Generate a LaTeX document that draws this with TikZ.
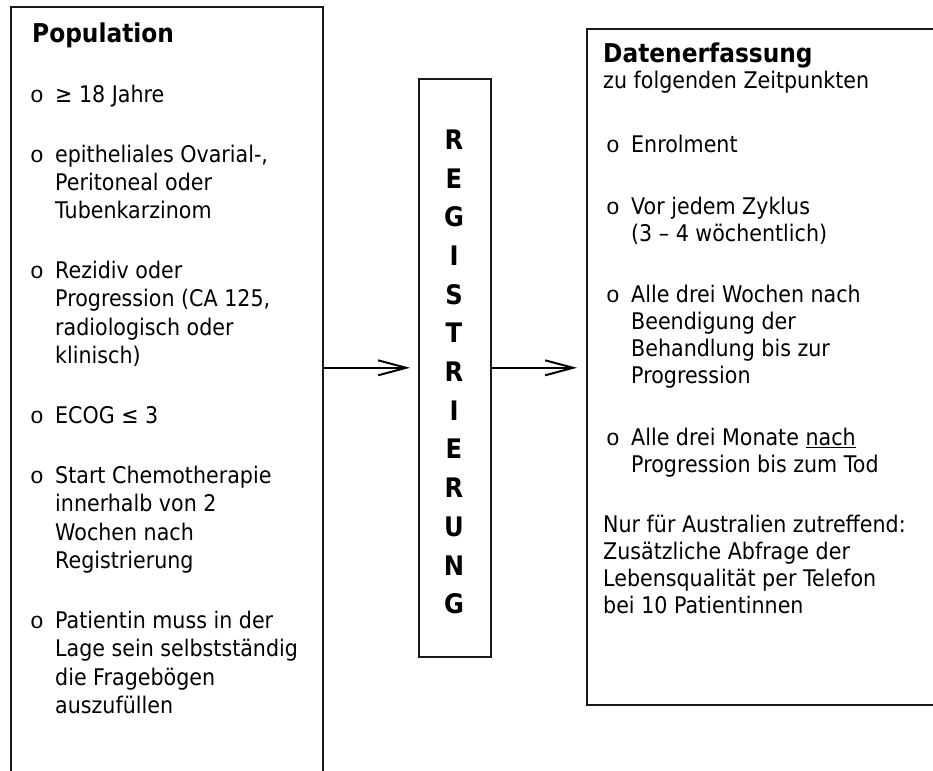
\documentclass[tikz,border=0pt]{standalone}
\usepackage{fontspec}
\setmainfont{DejaVu Sans}[FakeStretch=0.9]
\newfontfamily\bulletfont{Liberation Mono}
\usetikzlibrary{arrows.meta}
\definecolor{Frame}{HTML}{1A1A1A}

\tikzset{
  box/.style={draw=Frame, line width=1.6bp, inner sep=0pt, anchor=north west},
  txt/.style={anchor=base west, inner sep=0pt, font=\fontsize{23}{28}\selectfont},
  head/.style={anchor=base west, inner sep=0pt, font=\bfseries\fontsize{26}{30}\selectfont},
  dot/.style={anchor=base west, inner sep=0pt, font=\bulletfont\fontsize{23}{28}\selectfont},
  letter/.style={inner sep=0pt, font=\bfseries\fontsize{27}{30}\selectfont},
  arr/.style={line width=2bp, -{Straight Barb[length=28bp,width=15bp]}},
}

\begin{document}
\begin{tikzpicture}[x=1bp, y=-1bp]%
\useasboundingbox (0,0) rectangle (933,771);%
\clip (0,0) rectangle (933,771);%
% the three frames
\node[box, minimum width=312bp, minimum height=800bp] (pop) at (10,6) {};%
\node[box, minimum width=72bp, minimum height=578bp] (reg) at (418,78) {};%
\node[box, minimum width=400bp, minimum height=676bp] (dat) at (586,28) {};%
\draw[arr, shorten >=8bp] (reg.west -| pop.east) -- (reg.west);%
\draw[arr, shorten >=9bp] (reg.east) -- (reg.east -| dat.west);%
% left column
\node[head] (poptitle) at (32,43) {Population};%
\node[dot] (popb1) at (30,102) {o};%
\node[txt] (pop1) at (55,102) {≥ 18 Jahre};%
\node[dot] (popb2) at (30,162) {o};%
\node[txt] (pop2a) at (55,162) {epitheliales Ovarial-,};%
\node[txt] (pop2b) at (55,190) {Peritoneal oder};%
\node[txt] (pop2c) at (55,218) {Tubenkarzinom};%
\node[dot] (popb3) at (30,278) {o};%
\node[txt] (pop3a) at (55,278) {Rezidiv oder};%
\node[txt] (pop3b) at (55,306) {Progression (CA 125,};%
\node[txt] (pop3c) at (55,335) {radiologisch oder};%
\node[txt] (pop3d) at (55,363) {klinisch)};%
\node[dot] (popb4) at (30,423) {o};%
\node[txt] (pop4) at (55,423) {ECOG ≤ 3};%
\node[dot] (popb5) at (30,483) {o};%
\node[txt] (pop5a) at (55,483) {Start Chemotherapie};%
\node[txt] (pop5b) at (55,511) {innerhalb von 2};%
\node[txt] (pop5c) at (55,540) {Wochen nach};%
\node[txt] (pop5d) at (55,568) {Registrierung};%
\node[dot] (popb6) at (30,628) {o};%
\node[txt] (pop6a) at (55,628) {Patientin muss in der};%
\node[txt] (pop6b) at (55,656) {Lage sein selbstständig};%
\node[txt] (pop6c) at (55,685) {die Fragebögen};%
\node[txt] (pop6d) at (55,713) {auszufüllen};%
% middle column
\foreach \ch [count=\k from 0] in {R,E,G,I,S,T,R,I,E,R,U,N,G}
  \node[letter] (rl\k) at (454,{139.5+38.7*\k}) {\ch};%
% right column
\node[head] (dattitle) at (603,63) {Datenerfassung};%
\node[txt] (dattitleb) at (603,89) {zu folgenden Zeitpunkten};%
\node[dot] (datb1) at (606,152) {o};%
\node[txt] (dat1) at (631,152) {Enrolment};%
\node[dot] (datb2) at (606,214) {o};%
\node[txt] (dat2a) at (631,214) {Vor jedem Zyklus};%
\node[txt] (dat2b) at (631,241) {(3 – 4 wöchentlich)};%
\node[dot] (datb3) at (606,302) {o};%
\node[txt] (dat3a) at (631,302) {Alle drei Wochen nach};%
\node[txt] (dat3b) at (631,329) {Beendigung der};%
\node[txt] (dat3c) at (631,356) {Behandlung bis zur};%
\node[txt] (dat3d) at (631,383) {Progression};%
\node[dot] (datb4) at (606,445) {o};%
\node[txt] (dat4a) at (631,445) {Alle drei Monate \underline{nach}};%
\node[txt] (dat4b) at (631,472) {Progression bis zum Tod};%
\node[txt] (datnote1) at (603,532) {Nur für Australien zutreffend:};%
\node[txt] (datnote2) at (603,559) {Zusätzliche Abfrage der};%
\node[txt] (datnote3) at (603,586) {Lebensqualität per Telefon};%
\node[txt] (datnote4) at (603,613) {bei 10 Patientinnen};%
\end{tikzpicture}
\end{document}
